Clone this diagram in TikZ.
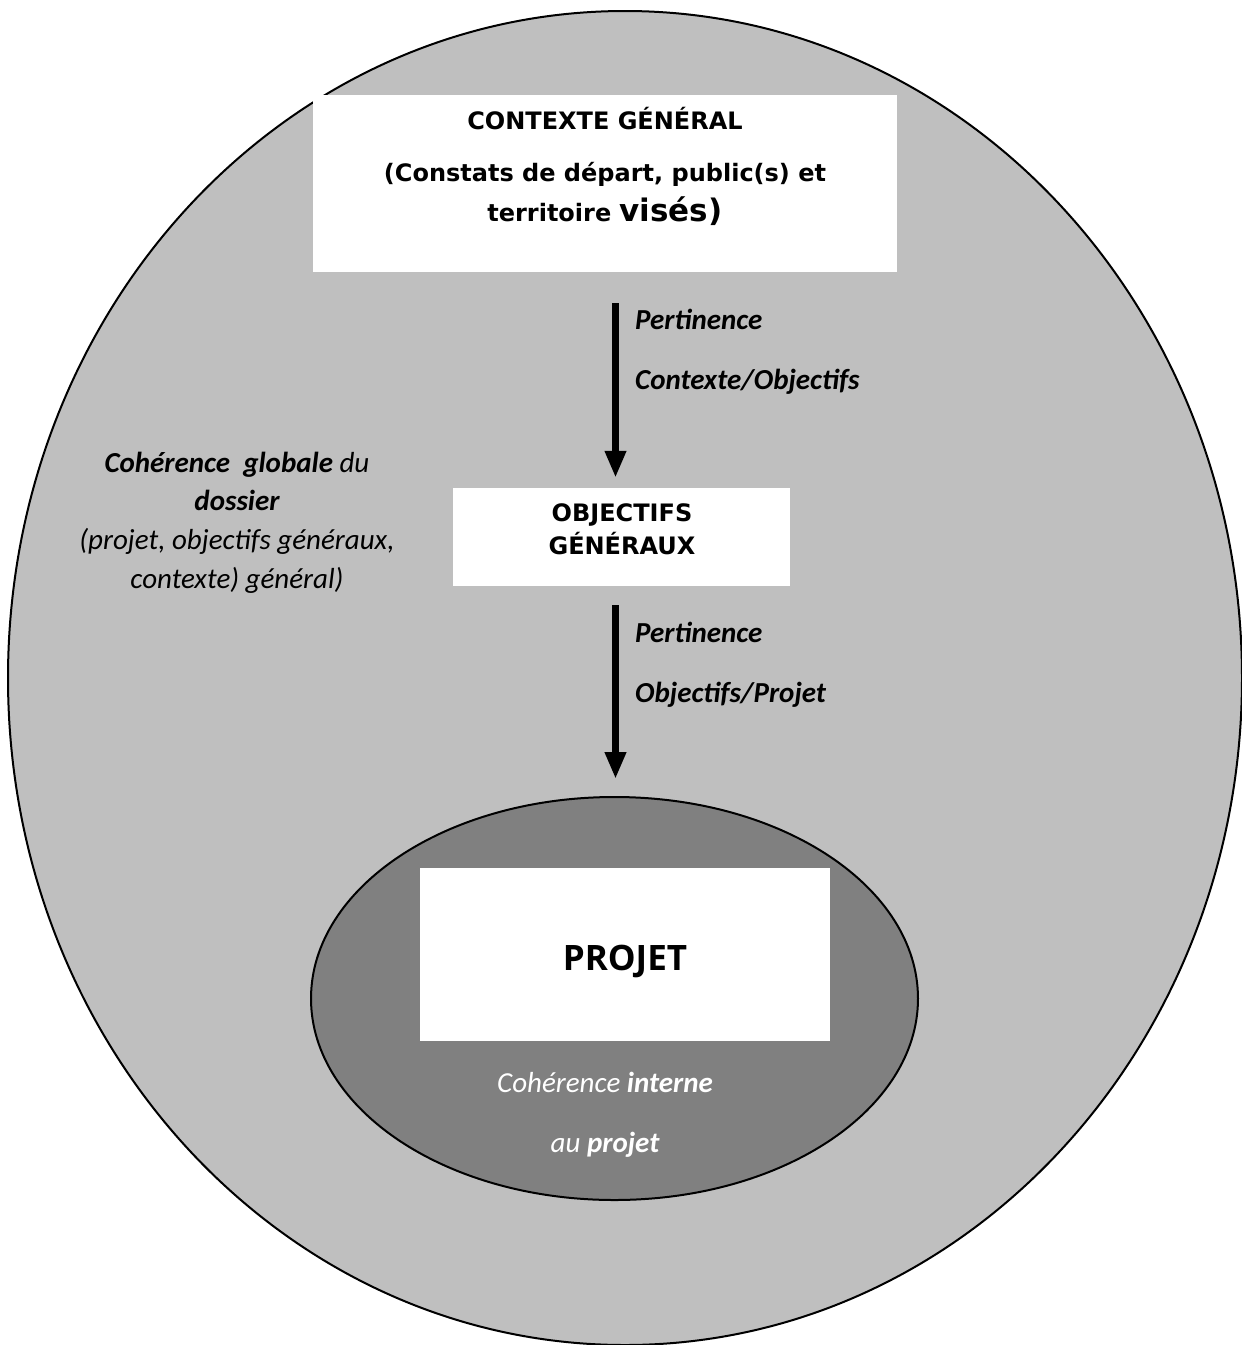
\documentclass[tikz,border=0pt]{standalone}
\usepackage{fontspec}
\setmainfont{Carlito}
\newfontfamily\boxfont{DejaVu Sans}
\newfontfamily\projfont{Open Sans}
\usetikzlibrary{arrows.meta,shapes.geometric}

\definecolor{dossiergray}{gray}{0.75}
\definecolor{projetgray}{gray}{0.5}

\begin{document}
\begin{tikzpicture}[x=1pt,y=-1pt,
  bubble/.style={ellipse,draw=black,line width=2pt,inner sep=0pt},
  whitebox/.style={rectangle,fill=white,inner sep=0pt},
  flowarrow/.style={line width=7pt,-{Triangle[length=27pt,width=20pt]}},
  boxtext/.style={anchor=base,inner sep=0pt,font=\boxfont\bfseries},
  linklabel/.style={anchor=base west,inner sep=0pt}]

  \useasboundingbox (0,0) rectangle (1242,1345);

  % ellipses
  \node[bubble,fill=dossiergray,minimum width=1234pt,minimum height=1334pt] (dossier) at (625,678) {};
  \node[bubble,fill=projetgray,minimum width=607pt,minimum height=403pt] (interne) at (614.5,998.5) {};

  % boxes
  \node[whitebox,minimum width=584pt,minimum height=177pt] (contexte) at (605,183.5) {};
  \node[whitebox,minimum width=337pt,minimum height=98pt] (objectifs) at (621.5,537) {};
  \node[whitebox,minimum width=410pt,minimum height=173pt] (projet) at (625,954.5) {};

  \node[boxtext] (contexte text) at (605,129)
  {\fontsize{24}{40}\selectfont\begin{tabular}[t]{@{}c@{}}CONTEXTE GÉNÉRAL\\[12pt]
  (Constats de départ, public(s) et\\ territoire {\fontsize{31}{40}\selectfont visés)}\end{tabular}};
  \node[boxtext] (objectifs text) at (622,521)
  {\fontsize{24}{33}\selectfont\begin{tabular}[t]{@{}c@{}}OBJECTIFS\\ GÉNÉRAUX\end{tabular}};
  \node[anchor=base,inner sep=0pt,font=\projfont\bfseries\fontsize{35}{42}\selectfont]
    (projet text) at (625,970) {PROJET};

  % arrows
  \draw[flowarrow] ([xshift=10.5pt,yshift=-31pt]contexte.south) -- ([xshift=-6pt,yshift=10pt]objectifs.north);
  \draw[flowarrow] ([xshift=-6pt,yshift=-19pt]objectifs.south) -- ([xshift=1pt,yshift=17pt]interne.north);

  \node[linklabel] (pertinence a) at (635,329)
  {\fontsize{29}{60}\selectfont\bfseries\itshape\begin{tabular}[t]{@{}l@{}}Pertinence\\ Contexte/Objectifs\end{tabular}};
  \node[linklabel] (pertinence b) at (635,642)
  {\fontsize{29}{60}\selectfont\bfseries\itshape\begin{tabular}[t]{@{}l@{}}Pertinence\\ Objectifs/Projet\end{tabular}};

  % side texts
  \node[anchor=base,inner sep=0pt] (globale) at (237,472)
  {\fontsize{29}{38.7}\selectfont\itshape\begin{tabular}[t]{@{}c@{}}\textbf{Cohérence\ \ globale} du\\
  \textbf{dossier}\\ (projet, objectifs généraux,\\ contexte) général)\end{tabular}};
  \node[anchor=base,inner sep=0pt,text=white] (interne text) at (605,1092)
  {\fontsize{29}{60}\selectfont\itshape\begin{tabular}[t]{@{}c@{}}Cohérence \textbf{interne}\\ au \textbf{projet}\end{tabular}};
\end{tikzpicture}
\end{document}
